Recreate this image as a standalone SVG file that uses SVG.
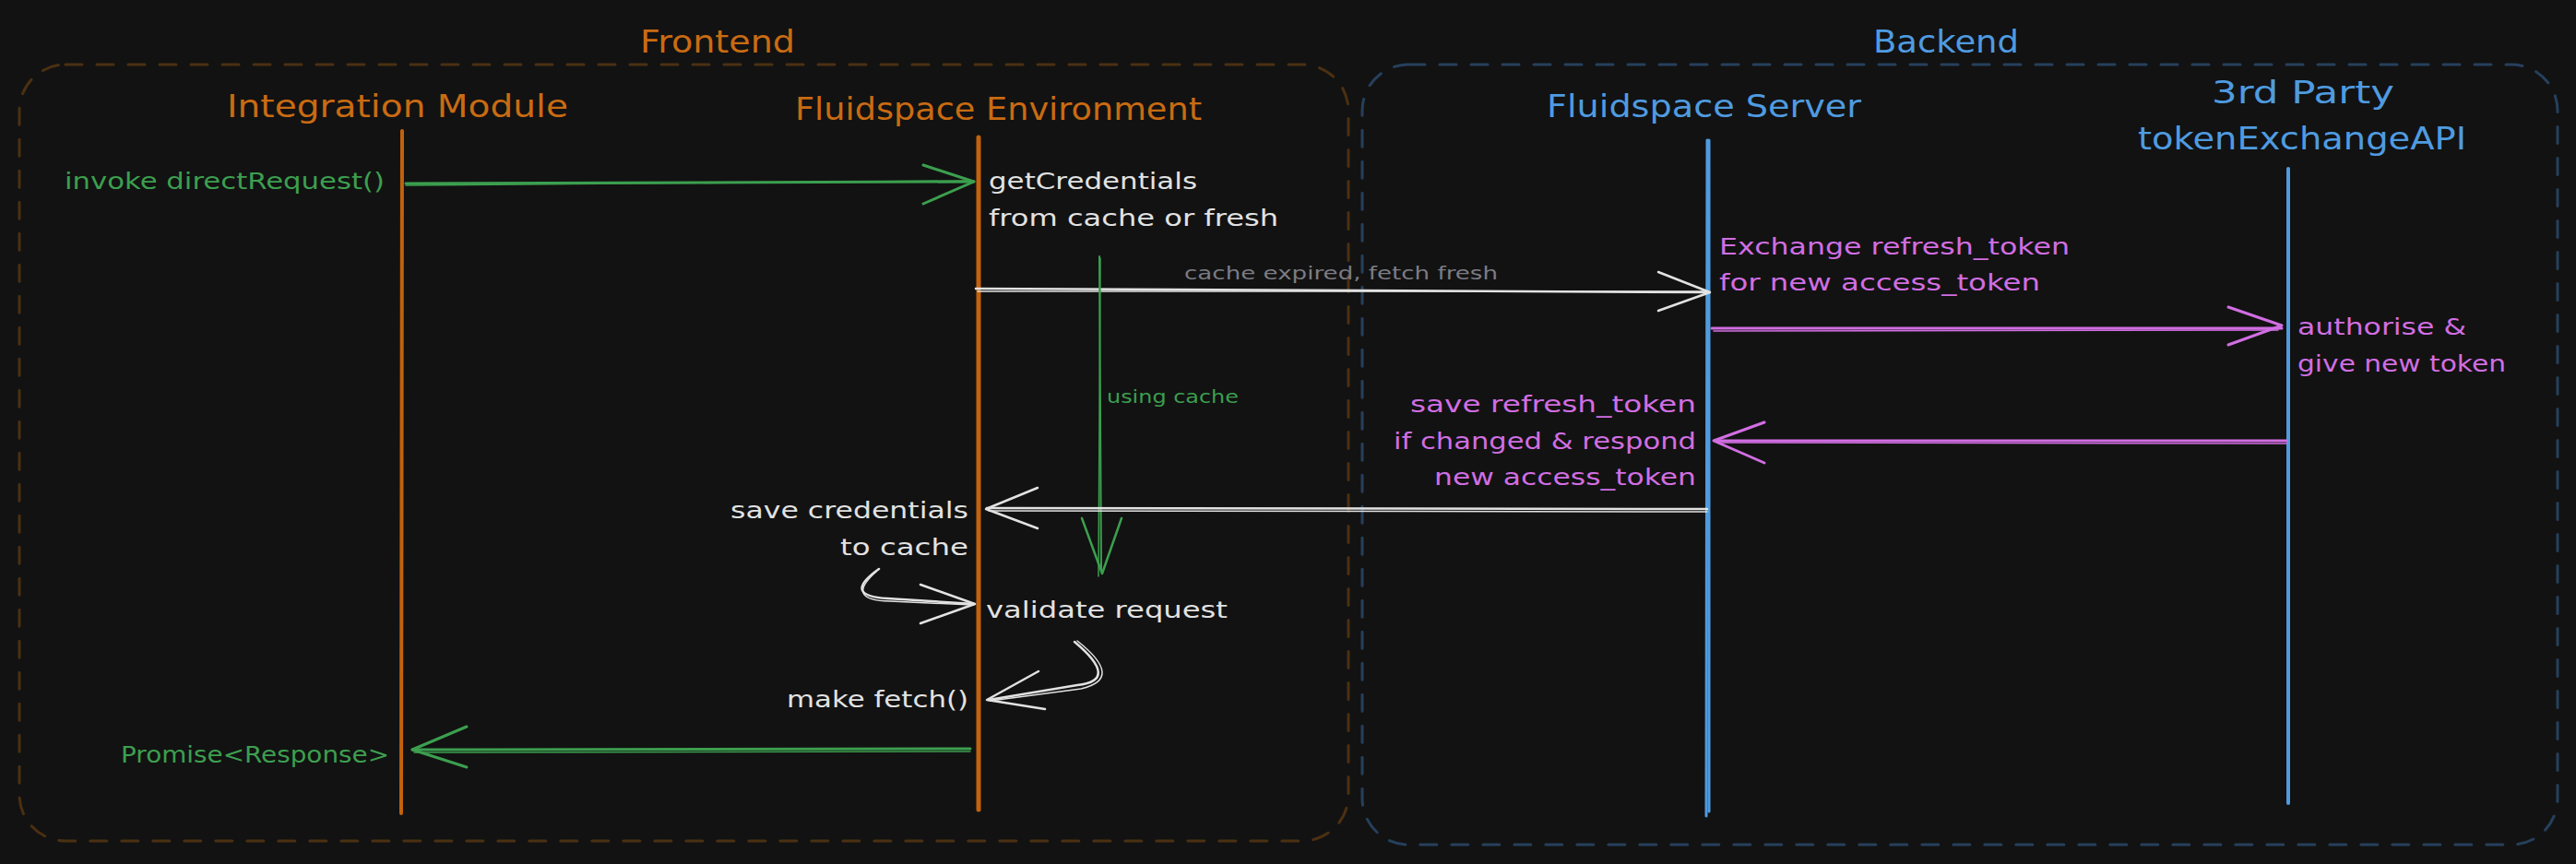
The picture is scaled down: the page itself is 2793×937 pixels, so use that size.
<svg xmlns="http://www.w3.org/2000/svg" width="2793" height="937" viewBox="0 0 2793 937">
<style>
text{font-family:"DejaVu Sans","Liberation Sans",sans-serif}
.title{font-size:34px}
.body{font-size:25px}
.small{font-size:19px}
.orange{fill:#c96b12}
.blue{fill:#4f9be0}
.green{fill:#3c9f4f}
.white{fill:#e2e2e2}
.purple{fill:#d16ee2}
.gray{fill:#7c7c84}
.ln{fill:none;stroke-linecap:round;stroke-linejoin:round}
.sg{stroke:#3c9f4f}
.sw{stroke:#e2e2e2}
.sp{stroke:#d16ee2}
.so{stroke:#c2620c}
.sb{stroke:#4f9be0}
.group{fill:none;stroke-width:3;stroke-dasharray:18 16;stroke-linecap:round}
</style>
<rect width="2793" height="937" fill="#121212"/>

<g id="frontend-group">
<rect class="group" x="21" y="70" width="1441" height="842" rx="50" stroke="#4b3012"/>
<text class="title orange" x="694" y="57" textLength="168" lengthAdjust="spacingAndGlyphs">Frontend</text>
</g>
<g id="backend-group">
<rect class="group" x="1477" y="70" width="1296" height="846" rx="50" stroke="#26405c"/>
<text class="title blue" x="2031" y="57" textLength="158" lengthAdjust="spacingAndGlyphs">Backend</text>
</g>

<g id="integration-module">
<text class="title orange" x="246" y="127" textLength="370" lengthAdjust="spacingAndGlyphs">Integration Module</text>
<path class="ln so" stroke-width="4" d="M436 142 L435 882"/>
</g>
<g id="fluidspace-environment">
<text class="title orange" x="862" y="130" textLength="441" lengthAdjust="spacingAndGlyphs">Fluidspace Environment</text>
<path class="ln so" stroke-width="5" d="M1061 149 L1061 878"/>
</g>
<g id="fluidspace-server">
<text class="title blue" x="1677" y="127" textLength="341" lengthAdjust="spacingAndGlyphs">Fluidspace Server</text>
<path class="ln sb" stroke-width="3" d="M1851 152 L1850 885"/>
<path class="ln sb" stroke-width="3" d="M1853 152 L1853 880"/>
</g>
<g id="token-exchange-api">
<text class="title blue" x="2398" y="112" textLength="198" lengthAdjust="spacingAndGlyphs">3rd Party</text>
<text class="title blue" x="2318" y="162" textLength="356" lengthAdjust="spacingAndGlyphs">tokenExchangeAPI</text>
<path class="ln sb" stroke-width="4" d="M2481 183 L2481 871"/>
</g>

<g id="connectors">
<!-- invoke directRequest -->
<path class="ln sg" stroke-width="3" d="M440 199 L1056 197"/>
<path class="ln sg" stroke-width="1.5" d="M440 201 L1054 196"/>
<path class="ln sg" stroke-width="3" d="M1001 179 L1056 197 L1001 221"/>
<text class="body green" x="70" y="205" textLength="347" lengthAdjust="spacingAndGlyphs">invoke directRequest()</text>

<!-- cache expired -->
<path class="ln sw" stroke-width="2.5" d="M1058 313 L1852 317"/>
<path class="ln sw" stroke-width="1.5" d="M1060 316 L1850 316"/>
<path class="ln sw" stroke-width="2.5" d="M1798 295 L1854 317 L1798 337"/>
<text class="small gray" x="1284" y="303" textLength="340" lengthAdjust="spacingAndGlyphs">cache expired, fetch fresh</text>

<!-- using cache -->
<path class="ln sg" stroke-width="2" d="M1192 278 L1194 620"/>
<path class="ln sg" stroke-width="1.5" d="M1193 280 L1191 625"/>
<path class="ln sg" stroke-width="2.5" d="M1173 562 L1195 622 L1216 562"/>
<text class="small green" x="1200" y="437" textLength="143" lengthAdjust="spacingAndGlyphs">using cache</text>

<!-- exchange -->
<path class="ln sp" stroke-width="3" d="M1856 356 L2474 356"/>
<path class="ln sp" stroke-width="1.5" d="M1858 359 L2470 358"/>
<path class="ln sp" stroke-width="3" d="M2416 333 L2474 353 L2416 374"/>

<!-- respond -->
<path class="ln sp" stroke-width="3" d="M2479 478 L1860 478"/>
<path class="ln sp" stroke-width="1.5" d="M2479 481 L1862 480"/>
<path class="ln sp" stroke-width="3" d="M1913 458 L1858 478 L1913 502"/>

<!-- back to env -->
<path class="ln sw" stroke-width="2.5" d="M1851 552 L1070 551"/>
<path class="ln sw" stroke-width="1.5" d="M1851 555 L1072 554"/>
<path class="ln sw" stroke-width="2.5" d="M1125 529 L1069 552 L1125 573"/>

<!-- save to cache -> validate -->
<path class="ln sw" stroke-width="2.5" d="M953 617 Q 912 646 962 649 L1056 655"/>
<path class="ln sw" stroke-width="1.5" d="M950 620 Q 915 651 965 652 L1054 656"/>
<path class="ln sw" stroke-width="2.5" d="M998 634 L1057 655 L998 676"/>

<!-- validate -> fetch -->
<path class="ln sw" stroke-width="2.5" d="M1165 696 Q 1215 738 1168 743 L1072 759"/>
<path class="ln sw" stroke-width="1.5" d="M1168 695 Q 1220 736 1172 747 L1074 760"/>
<path class="ln sw" stroke-width="2.5" d="M1126 728 L1070 759 L1133 769"/>

<!-- promise -->
<path class="ln sg" stroke-width="3" d="M1052 812 L447 813"/>
<path class="ln sg" stroke-width="1.5" d="M1052 815 L449 816"/>
<path class="ln sg" stroke-width="3" d="M506 788 L447 813 L506 832"/>
</g>

<g id="notes">
<text class="body white" x="1072" y="205" textLength="226" lengthAdjust="spacingAndGlyphs">getCredentials</text>
<text class="body white" x="1072" y="245" textLength="314" lengthAdjust="spacingAndGlyphs">from cache or fresh</text>
<text class="body purple" x="1864" y="276" textLength="380" lengthAdjust="spacingAndGlyphs">Exchange refresh_token</text>
<text class="body purple" x="1864" y="315" textLength="348" lengthAdjust="spacingAndGlyphs">for new access_token</text>
<text class="body purple" x="2491" y="363" textLength="183" lengthAdjust="spacingAndGlyphs">authorise &amp;</text>
<text class="body purple" x="2491" y="403" textLength="226" lengthAdjust="spacingAndGlyphs">give new token</text>
<text class="body purple" x="1529" y="447" textLength="310" lengthAdjust="spacingAndGlyphs">save refresh_token</text>
<text class="body purple" x="1511" y="487" textLength="328" lengthAdjust="spacingAndGlyphs">if changed &amp; respond</text>
<text class="body purple" x="1555" y="526" textLength="284" lengthAdjust="spacingAndGlyphs">new access_token</text>
<text class="body white" x="792" y="562" textLength="258" lengthAdjust="spacingAndGlyphs">save credentials</text>
<text class="body white" x="911" y="602" textLength="139" lengthAdjust="spacingAndGlyphs">to cache</text>
<text class="body white" x="1069" y="670" textLength="262" lengthAdjust="spacingAndGlyphs">validate request</text>
<text class="body white" x="853" y="767" textLength="197" lengthAdjust="spacingAndGlyphs">make fetch()</text>
<text class="body green" x="131" y="827" textLength="291" lengthAdjust="spacingAndGlyphs">Promise&lt;Response&gt;</text>
</g>
</svg>
